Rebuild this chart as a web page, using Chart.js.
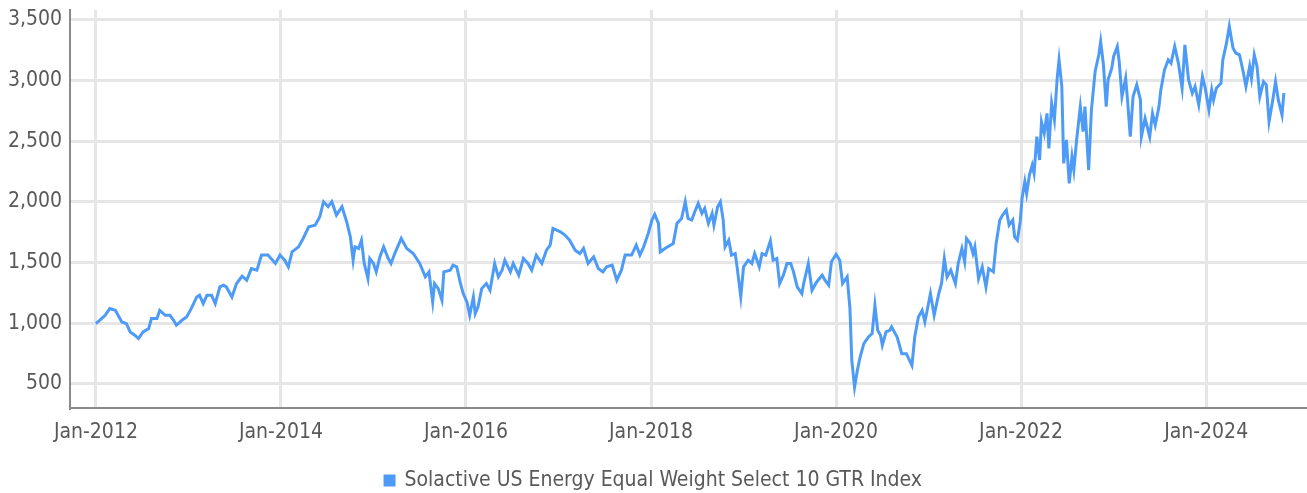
<!DOCTYPE html>
<html>
<head>
<meta charset="utf-8">
<script src="https://cdn.jsdelivr.net/npm/chart.js@4.4.1/dist/chart.umd.min.js"></script>
<style>
    html, body { margin: 0; padding: 0; background: #ffffff; }
    #chart { display: block; }
</style>
</head>
<body>
<canvas id="chart" width="1307" height="493"></canvas>
<script>
// Series name
const seriesName = 'Solactive US Energy Equal Weight Select 10 GTR Index';

// Dates as decimal years
const dates = [
    2012.00, 2012.04, 2012.10, 2012.15, 2012.21, 2012.24, 2012.28, 2012.33, 2012.37, 2012.42,
    2012.46, 2012.51, 2012.57, 2012.60, 2012.66, 2012.69, 2012.75, 2012.80, 2012.84, 2012.87,
    2012.93, 2012.98, 2013.03, 2013.09, 2013.12, 2013.16, 2013.20, 2013.25, 2013.29, 2013.34,
    2013.38, 2013.41, 2013.47, 2013.52, 2013.58, 2013.63, 2013.68, 2013.74, 2013.79, 2013.86,
    2013.94, 2013.99, 2014.04, 2014.08, 2014.12, 2014.19, 2014.24, 2014.30, 2014.37, 2014.42,
    2014.46, 2014.51, 2014.55, 2014.60, 2014.66, 2014.71, 2014.75, 2014.78, 2014.80, 2014.84,
    2014.87, 2014.90, 2014.94, 2014.96, 2015.00, 2015.03, 2015.07, 2015.11, 2015.16, 2015.19,
    2015.23, 2015.30, 2015.36, 2015.43, 2015.50, 2015.56, 2015.60, 2015.64, 2015.66, 2015.70,
    2015.74, 2015.76, 2015.83, 2015.86, 2015.90, 2015.94, 2015.97, 2016.01, 2016.04, 2016.08,
    2016.10, 2016.13, 2016.17, 2016.22, 2016.26, 2016.31, 2016.35, 2016.39, 2016.42, 2016.48,
    2016.51, 2016.57, 2016.62, 2016.67, 2016.71, 2016.76, 2016.82, 2016.87, 2016.91, 2016.94,
    2017.02, 2017.07, 2017.12, 2017.18, 2017.23, 2017.27, 2017.32, 2017.38, 2017.43, 2017.48,
    2017.52, 2017.58, 2017.63, 2017.68, 2017.72, 2017.79, 2017.84, 2017.88, 2017.92, 2017.97,
    2018.01, 2018.04, 2018.08, 2018.10, 2018.15, 2018.24, 2018.28, 2018.33, 2018.37, 2018.40,
    2018.44, 2018.48, 2018.51, 2018.55, 2018.58, 2018.62, 2018.66, 2018.68, 2018.72, 2018.75,
    2018.78, 2018.80, 2018.84, 2018.87, 2018.91, 2018.93, 2018.97, 2019.00, 2019.05, 2019.09,
    2019.12, 2019.17, 2019.20, 2019.24, 2019.29, 2019.32, 2019.36, 2019.39, 2019.43, 2019.47,
    2019.51, 2019.54, 2019.58, 2019.63, 2019.65, 2019.70, 2019.74, 2019.79, 2019.85, 2019.88,
    2019.92, 2019.95, 2020.00, 2020.04, 2020.07, 2020.12, 2020.15, 2020.17, 2020.20, 2020.23,
    2020.26, 2020.30, 2020.35, 2020.39, 2020.42, 2020.45, 2020.48, 2020.50, 2020.54, 2020.58,
    2020.60, 2020.66, 2020.71, 2020.76, 2020.82, 2020.85, 2020.89, 2020.93, 2020.96, 2021.02,
    2021.06, 2021.11, 2021.14, 2021.17, 2021.20, 2021.24, 2021.29, 2021.32, 2021.36, 2021.39,
    2021.41, 2021.45, 2021.48, 2021.50, 2021.54, 2021.58, 2021.62, 2021.65, 2021.70, 2021.73,
    2021.77, 2021.80, 2021.84, 2021.87, 2021.91, 2021.93, 2021.96, 2021.99, 2022.01, 2022.04,
    2022.06, 2022.09, 2022.12, 2022.14, 2022.17, 2022.20, 2022.22, 2022.25, 2022.28, 2022.30,
    2022.33, 2022.36, 2022.39, 2022.41, 2022.44, 2022.46, 2022.49, 2022.52, 2022.55, 2022.57,
    2022.60, 2022.64, 2022.67, 2022.69, 2022.73, 2022.76, 2022.80, 2022.84, 2022.86, 2022.89,
    2022.92, 2022.94, 2022.98, 2023.00, 2023.04, 2023.06, 2023.09, 2023.13, 2023.15, 2023.18,
    2023.21, 2023.25, 2023.29, 2023.30, 2023.34, 2023.39, 2023.42, 2023.45, 2023.49, 2023.51,
    2023.55, 2023.59, 2023.62, 2023.66, 2023.70, 2023.74, 2023.77, 2023.81, 2023.85, 2023.88,
    2023.92, 2023.96, 2023.99, 2024.03, 2024.06, 2024.08, 2024.11, 2024.16, 2024.18, 2024.22,
    2024.25, 2024.29, 2024.32, 2024.36, 2024.40, 2024.43, 2024.47, 2024.49, 2024.52, 2024.55,
    2024.58, 2024.62, 2024.65, 2024.68, 2024.72, 2024.75, 2024.78, 2024.82, 2024.84
];

// Index level at each date
const indexValues = [
    995, 1023, 1064, 1119, 1105, 1064, 1009, 995, 927, 900,
    872, 927, 954, 1037, 1037, 1105, 1064, 1064, 1023, 982,
    1023, 1050, 1119, 1215, 1229, 1160, 1229, 1229, 1160, 1298,
    1312, 1298, 1215, 1326, 1386, 1353, 1449, 1436, 1560, 1560,
    1491, 1560, 1518, 1463, 1587, 1628, 1697, 1793, 1807, 1876,
    2000, 1959, 2000, 1890, 1959, 1835, 1711, 1518, 1628, 1615,
    1683, 1491, 1367, 1532, 1491, 1422, 1546, 1628, 1532, 1491,
    1573, 1697, 1615, 1573, 1491, 1381, 1422, 1174, 1326, 1284,
    1188, 1422, 1436, 1477, 1463, 1326, 1243, 1174, 1064, 1215,
    1078, 1133, 1284, 1326, 1270, 1491, 1381, 1436, 1518, 1422,
    1491, 1394, 1532, 1491, 1436, 1560, 1491, 1601, 1642, 1780,
    1752, 1725, 1683, 1601, 1573, 1615, 1491, 1546, 1449, 1422,
    1463, 1477, 1353, 1436, 1560, 1560, 1642, 1560, 1628, 1739,
    1849, 1895, 1821, 1587, 1615, 1656, 1821, 1862, 2000, 1862,
    1849, 1931, 1986, 1904, 1945, 1821, 1904, 1807, 1959, 2000,
    1849, 1628, 1683, 1560, 1573, 1463, 1216, 1463, 1518, 1491,
    1573, 1463, 1573, 1560, 1678, 1518, 1532, 1326, 1394, 1491,
    1491, 1422, 1298, 1243, 1326, 1491, 1270, 1339, 1394, 1353,
    1312, 1505, 1567, 1518, 1326, 1381, 1119, 693, 472, 610,
    720, 830, 885, 913, 1147, 940, 900, 817, 927, 940,
    968, 885, 748, 748, 651, 885, 1050, 1105, 1009, 1243,
    1064, 1243, 1326, 1532, 1381, 1436, 1326, 1491, 1615, 1505,
    1697, 1656, 1573, 1628, 1367, 1463, 1298, 1449, 1422, 1656,
    1849, 1890, 1931, 1807, 1849, 1711, 1683, 1835, 2027, 2165,
    2069, 2220, 2302, 2233, 2536, 2344, 2659, 2564, 2728, 2440,
    2811, 2673, 3018, 3169, 2949, 2316, 2509, 2151, 2371, 2261,
    2509, 2784, 2578, 2784, 2261, 2757, 3073, 3211, 3321, 3128,
    2784, 3004, 3101, 3197, 3279, 3156, 2866, 3018, 2839, 2536,
    2866, 2963, 2839, 2536, 2687, 2536, 2728, 2632, 2784, 2921,
    3087, 3169, 3142, 3279, 3142, 2935, 3293, 3004, 2894, 2949,
    2798, 3032, 2935, 2757, 2921, 2839, 2935, 2977, 3169, 3307,
    3445, 3266, 3225, 3211, 3073, 2949, 3115, 3018, 3211, 3115,
    2866, 2990, 2963, 2659, 2839, 2990, 2839, 2715, 2894
];

// Axis ticks
const xTickYears = [2012, 2014, 2016, 2018, 2020, 2022, 2024];
const yTickValues = [500, 1000, 1500, 2000, 2500, 3000, 3500];

const fontFamily = "'Liberation Sans Narrow', 'DejaVu Sans Condensed', 'Roboto', sans-serif";
const textColor = '#595959';
const lineColor = '#4d9bf6';
const gridColor = '#e6e6e6';
const axisColor = '#8a8a8a';

const ctx = document.getElementById('chart').getContext('2d');

new Chart(ctx, {
    type: 'line',
    data: {
        datasets: [{
            label: seriesName,
            data: dates.map((d, i) => ({ x: d, y: indexValues[i] })),
            borderColor: lineColor,
            backgroundColor: lineColor,
            borderWidth: 3,
            pointRadius: 0,
            tension: 0,
            fill: false
        }]
    },
    options: {
        responsive: false,
        animation: false,
        layout: {
            autoPadding: false,
            padding: { top: 10, left: 0, right: 0, bottom: -8 }
        },
        plugins: {
            tooltip: { enabled: false },
            legend: {
                position: 'bottom',
                labels: {
                    color: textColor,
                    boxWidth: 9,
                    boxHeight: 9,
                    padding: 2,
                    font: { family: fontFamily, size: 21 }
                }
            }
        },
        scales: {
            x: {
                type: 'linear',
                min: 2011.72,
                max: 2025.09,
                afterBuildTicks: scale => {
                    scale.ticks = xTickYears.map(v => ({ value: v }));
                },
                afterFit: scale => {
                    scale.height = 60;
                },
                grid: {
                    color: gridColor,
                    lineWidth: 3,
                    drawTicks: false
                },
                border: { color: axisColor, width: 2 },
                ticks: {
                    color: textColor,
                    padding: 12,
                    maxRotation: 0,
                    autoSkip: false,
                    font: { family: fontFamily, size: 21 },
                    callback: v => 'Jan-' + v
                }
            },
            y: {
                min: 300,
                max: 3580,
                afterBuildTicks: scale => {
                    scale.ticks = yTickValues.map(v => ({ value: v }));
                },
                afterFit: scale => {
                    scale.width = 70;
                    scale.paddingTop = 0;
                    scale.paddingBottom = 0;
                },
                grid: {
                    color: gridColor,
                    lineWidth: 3,
                    drawTicks: false
                },
                border: { color: axisColor, width: 2 },
                ticks: {
                    color: textColor,
                    padding: 8,
                    font: { family: fontFamily, size: 21 },
                    callback: v => v.toLocaleString('en-US')
                }
            }
        }
    }
});
</script>
</body>
</html>
